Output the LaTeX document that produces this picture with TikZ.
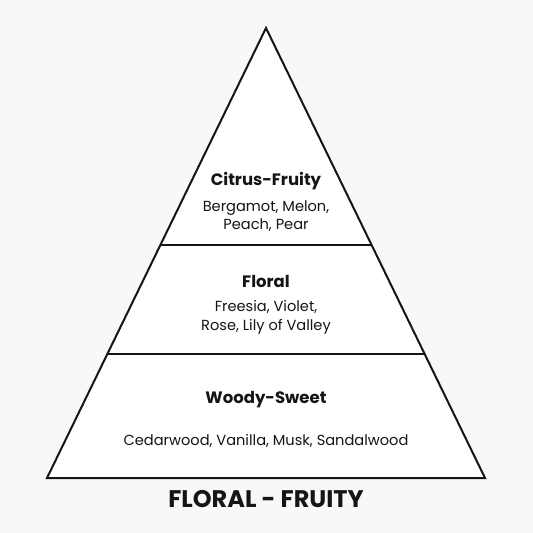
\documentclass[tikz,border=0pt]{standalone}
\usepackage{fontspec}
\setmainfont{Poppins}
\usepackage{xcolor}
\usetikzlibrary{calc}
\definecolor{pagebg}{HTML}{F7F8FA}
\definecolor{ink}{HTML}{151515}

\begin{document}
\begin{tikzpicture}[x=1pt, y=-1pt,
  title/.style={font=\fontsize{16.5}{19}\selectfont\bfseries, text=ink, inner sep=0pt, anchor=base},
  notes/.style={font=\fontsize{14.6}{18.5}\selectfont, text=ink, align=center, inner sep=0pt},
  layer/.style={draw=ink, line width=2pt}]
\fill[pagebg] (0,0) rectangle (533,533);
\useasboundingbox (0,0) rectangle (533,533);

\coordinate (apex) at (266,28);
\coordinate (baseL) at (47,478);
\coordinate (baseR) at (485,478);
\coordinate (midL) at ($(apex)!0.7244!(baseL)$);
\coordinate (midR) at ($(apex)!0.7244!(baseR)$);
\coordinate (topL) at ($(apex)!0.4822!(baseL)$);
\coordinate (topR) at ($(apex)!0.4822!(baseR)$);

\filldraw[layer, fill=white, line join=miter] (apex) -- (baseR) -- (baseL) -- cycle;
\draw[layer] (topL) -- (topR);
\draw[layer] (midL) -- (midR);

\node[title] (citrus) at (266,185) {Citrus-Fruity};
\node[notes] (citrusnotes) at (266,216) {Bergamot, Melon,\\Peach, Pear};

\node[title] (floral) at (266,287.5) {Floral};
\node[notes] (floralnotes) at (266,317.5) {Freesia, Violet,\\Rose, Lily of Valley};

\node[title] (woody) at (266,403) {Woody-Sweet};
\node[notes, anchor=base] (woodynotes) at (266,445) {Cedarwood, Vanilla, Musk, Sandalwood};

\node[font=\fontsize{24}{27}\selectfont\bfseries, text=ink, inner sep=0pt, anchor=base] (family) at (266,507.5) {FLORAL - FRUITY};
\end{tikzpicture}
\end{document}
